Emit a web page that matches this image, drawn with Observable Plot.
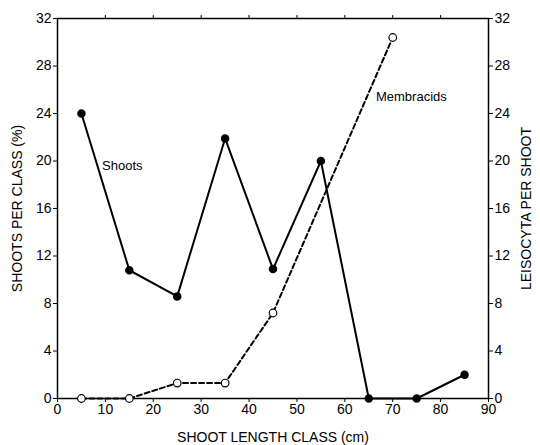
<!DOCTYPE html>
<html>
<head>
<meta charset="utf-8">
<script src="https://cdn.jsdelivr.net/npm/d3@7"></script>
<script src="https://cdn.jsdelivr.net/npm/@observablehq/plot@0.6"></script>
<style>
  html, body { margin: 0; padding: 0; background: #fff; }
  #chart svg { display: block; }
</style>
</head>
<body>
<div id="chart"></div>
<script>
const shootClasses = [5, 15, 25, 35, 45, 55, 65, 75, 85];
const shootsPct = [24.0, 10.8, 8.6, 21.9, 10.9, 20.0, 0, 0, 2.0];
const membracidClasses = [5, 15, 25, 35, 45, 70];
const membracidsPerShoot = [0, 0, 1.3, 1.3, 7.2, 30.4];
const xTicks = [0, 10, 20, 30, 40, 50, 60, 70, 80, 90];
const yTicks = [0, 4, 8, 12, 16, 20, 24, 28, 32];

const shoots = shootClasses.map((x, i) => ({x, y: shootsPct[i]}));
const membs = membracidClasses.map((x, i) => ({x, y: membracidsPerShoot[i]}));

const font = "Liberation Sans, Arial, Helvetica, sans-serif";

const chart = Plot.plot({
  width: 540,
  height: 445,
  marginLeft: 57,
  marginRight: 52,
  marginTop: 18,
  marginBottom: 47,
  style: {fontFamily: font, fontSize: "14px", color: "#000", background: "#fff"},
  x: {domain: [0, 90]},
  y: {domain: [0, 32]},
  marks: [
    Plot.axisX({ticks: xTicks, tickSize: 4, tickPadding: 2, fontSize: 14,
      label: "SHOOT LENGTH CLASS (cm)", labelAnchor: "center", labelArrow: "none", labelOffset: 43}),
    Plot.axisX({anchor: "top", ticks: xTicks.slice(1, -1), tickSize: 4, tickFormat: () => "", label: null}),
    Plot.axisY({ticks: yTicks, tickSize: 4, tickPadding: 2, fontSize: 14,
      label: "SHOOTS PER CLASS (%)", labelAnchor: "center", labelArrow: "none", labelOffset: 45}),
    Plot.axisY({anchor: "right", ticks: yTicks, tickSize: 4, tickPadding: 2, fontSize: 14,
      label: "LEISOCYTA PER SHOOT", labelAnchor: "center", labelArrow: "none", labelOffset: 42, labelRotate: -90}),
    Plot.frame({stroke: "#000", strokeWidth: 1.5}),
    Plot.line(membs, {x: "x", y: "y", stroke: "#000", strokeWidth: 2, strokeDasharray: "5,3"}),
    Plot.line(shoots, {x: "x", y: "y", stroke: "#000", strokeWidth: 2}),
    Plot.dot(membs, {x: "x", y: "y", r: 3.8, fill: "#fff", stroke: "#000", strokeWidth: 1.2}),
    Plot.dot(shoots, {x: "x", y: "y", r: 3.5, fill: "#000", stroke: "#000"}),
    Plot.text(["Shoots"], {x: 9.3, y: 19.6, text: d => d, textAnchor: "start", fontSize: 13}),
    Plot.text(["Membracids"], {x: 66.5, y: 25.4, text: d => d, textAnchor: "start", fontSize: 13})
  ]
});
document.getElementById("chart").appendChild(chart);
</script>
</body>
</html>
